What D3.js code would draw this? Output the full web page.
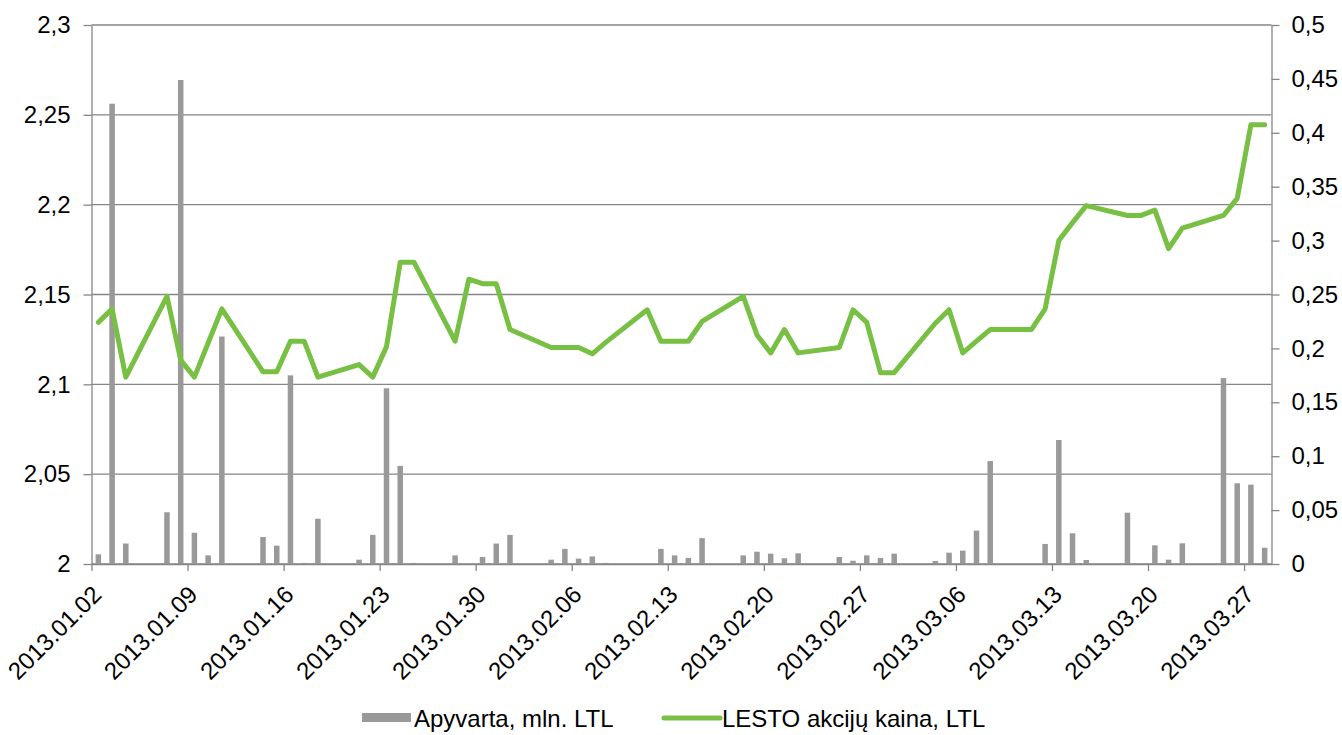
<!DOCTYPE html>
<html>
<head>
<meta charset="utf-8">
<script src="https://cdn.jsdelivr.net/npm/d3@7"></script>
<style>
  body { margin: 0; background: #fff; }
  svg { font-family: "Liberation Sans", Arial, sans-serif; }
</style>
</head>
<body>
<div id="chart"></div>
<script>
"use strict";

// trading days shown on the chart
const dates = [
  "2013-01-02", "2013-01-03", "2013-01-04", "2013-01-07", "2013-01-08", "2013-01-09",
  "2013-01-10", "2013-01-11", "2013-01-14", "2013-01-15", "2013-01-16", "2013-01-17",
  "2013-01-18", "2013-01-21", "2013-01-22", "2013-01-23", "2013-01-24", "2013-01-25",
  "2013-01-28", "2013-01-29", "2013-01-30", "2013-01-31", "2013-02-01", "2013-02-04",
  "2013-02-05", "2013-02-06", "2013-02-07", "2013-02-08", "2013-02-11", "2013-02-12",
  "2013-02-13", "2013-02-14", "2013-02-15", "2013-02-18", "2013-02-19", "2013-02-20",
  "2013-02-21", "2013-02-22", "2013-02-25", "2013-02-26", "2013-02-27", "2013-02-28",
  "2013-03-01", "2013-03-04", "2013-03-05", "2013-03-06", "2013-03-07", "2013-03-08",
  "2013-03-11", "2013-03-12", "2013-03-13", "2013-03-14", "2013-03-15", "2013-03-18",
  "2013-03-19", "2013-03-20", "2013-03-21", "2013-03-22", "2013-03-25", "2013-03-26",
  "2013-03-27", "2013-03-28"
];

// Apyvarta, mln. LTL (right axis)
const turnover = [
  0.009, 0.427, 0.019, 0.048, 0.449, 0.029,
  0.008, 0.211, 0.025, 0.017, 0.175, 0.001,
  0.042, 0.004, 0.027, 0.163, 0.091, 0.001,
  0.008, 0, 0.0065, 0.019, 0.027, 0.004,
  0.014, 0.005, 0.007, 0.001, 0, 0.014,
  0.008, 0.0056, 0.024, 0.008, 0.0114, 0.0096,
  0.0053, 0.0099, 0.0065, 0.003, 0.008, 0.0056,
  0.0096, 0.0028, 0.0105, 0.0124, 0.031, 0.0955,
  0, 0.0186, 0.115, 0.0285, 0.0037, 0.0476,
  0, 0.0173, 0.004, 0.0192, 0.1725, 0.0749,
  0.0736, 0.0151
];

// LESTO akciju kaina, LTL (left axis)
const price = [
  2.1345, 2.142, 2.104, 2.149, 2.1135, 2.104,
  2.123, 2.142, 2.107, 2.107, 2.124, 2.124,
  2.104, 2.111, 2.104, 2.121, 2.168, 2.168,
  2.124, 2.1585, 2.156, 2.156, 2.1305, 2.1205,
  2.1205, 2.1205, 2.117, 2.1235, 2.1415, 2.124,
  2.124, 2.124, 2.135, 2.149, 2.1275, 2.1175,
  2.1305, 2.1175, 2.1205, 2.1415, 2.1345, 2.1065,
  2.1065, 2.134, 2.1415, 2.1175, 2.124, 2.1305,
  2.1305, 2.142, 2.18, 2.19, 2.1995, 2.194,
  2.194, 2.197, 2.1755, 2.187, 2.194, 2.2035,
  2.2445, 2.2445
];

const tickDates = [
  "2013-01-02", "2013-01-09", "2013-01-16", "2013-01-23", "2013-01-30", "2013-02-06",
  "2013-02-13", "2013-02-20", "2013-02-27", "2013-03-06", "2013-03-13", "2013-03-20",
  "2013-03-27"
];
const leftTicks = [2, 2.05, 2.1, 2.15, 2.2, 2.25, 2.3];
const rightTicks = [0, 0.05, 0.1, 0.15, 0.2, 0.25, 0.3, 0.35, 0.4, 0.45, 0.5];
const seriesNames = ["Apyvarta, mln. LTL", "LESTO akcijų kaina, LTL"];

const width = 1342, height = 735;
const margin = {top: 25, right: 70.5, bottom: 171, left: 91.5};
const gridColor = "#868686";
const barColor = "#999999";
const lineColor = "#77c043";
const fontSize = 24;

const parse = d3.utcParse("%Y-%m-%d");
const data = dates.map((d, i) => ({date: parse(d), turnover: turnover[i], price: price[i]}));

const svg = d3.select("#chart").append("svg")
  .attr("width", width)
  .attr("height", height);

const x = d3.scaleUtc()
  .domain([parse(dates[0]), d3.utcDay.offset(parse(dates[dates.length - 1]), 1)])
  .range([margin.left, width - margin.right]);
const yL = d3.scaleLinear().domain([2, 2.3]).range([height - margin.bottom, margin.top]);
const yR = d3.scaleLinear().domain([0, 0.5]).range([height - margin.bottom, margin.top]);

// centre of each day slot
const cx = d => x(d3.utcHour.offset(d, 12));
const fmt = v => String(+v.toFixed(2)).replace(".", ",");

// gridlines
svg.append("g")
  .selectAll("line")
  .data(leftTicks)
  .join("line")
  .attr("x1", margin.left)
  .attr("x2", width - margin.right)
  .attr("y1", d => yL(d))
  .attr("y2", d => yL(d))
  .attr("stroke", gridColor)
  .attr("stroke-width", 1.3);

// bars
const barW = 5.5;
svg.append("g")
  .selectAll("rect")
  .data(data)
  .join("rect")
  .attr("x", d => cx(d.date) - barW / 2)
  .attr("y", d => yR(d.turnover))
  .attr("width", barW)
  .attr("height", d => yR(0) - yR(d.turnover))
  .attr("fill", barColor);

// axes
function styleAxis(g) {
  g.selectAll(".domain").attr("stroke", gridColor).attr("stroke-width", 1.3);
  g.selectAll(".tick line").attr("stroke", gridColor).attr("stroke-width", 1.3);
  g.selectAll("text")
    .attr("fill", "#000")
    .style("font-size", fontSize + "px")
    .style("font-family", "'Liberation Sans', Arial, sans-serif");
}

svg.append("g")
  .attr("transform", `translate(${margin.left},0)`)
  .call(d3.axisLeft(yL).tickValues(leftTicks).tickFormat(fmt).tickSize(8).tickPadding(13).tickSizeOuter(0))
  .call(styleAxis);

svg.append("g")
  .attr("transform", `translate(${width - margin.right},0)`)
  .call(d3.axisRight(yR).tickValues(rightTicks).tickFormat(fmt).tickSize(8).tickPadding(12).tickSizeOuter(0))
  .call(styleAxis);

const xAxis = svg.append("g")
  .attr("transform", `translate(0,${height - margin.bottom})`)
  .call(d3.axisBottom(x)
    .tickValues(tickDates.map(parse))
    .tickFormat(d3.utcFormat("%Y.%m.%d"))
    .tickSize(7)
    .tickSizeOuter(0))
  .call(styleAxis);

xAxis.selectAll(".tick text")
  .attr("text-anchor", "end")
  .attr("dy", null)
  .attr("y", 0)
  .attr("transform", "translate(11,32) rotate(-45)");

// price line
const line = d3.line()
  .x(d => cx(d.date))
  .y(d => yL(d.price));

svg.append("path")
  .datum(data)
  .attr("d", line)
  .attr("fill", "none")
  .attr("stroke", lineColor)
  .attr("stroke-width", 5)
  .attr("stroke-linejoin", "round")
  .attr("stroke-linecap", "round");

// legend
const legend = svg.append("g")
  .style("font-size", fontSize + "px");

legend.append("rect")
  .attr("x", 362)
  .attr("y", 713)
  .attr("width", 49)
  .attr("height", 9)
  .attr("fill", barColor);

legend.append("text")
  .attr("x", 414)
  .attr("y", 727)
  .text(seriesNames[0]);

legend.append("line")
  .attr("x1", 664)
  .attr("x2", 720)
  .attr("y1", 718)
  .attr("y2", 718)
  .attr("stroke", lineColor)
  .attr("stroke-width", 5)
  .attr("stroke-linecap", "round");

legend.append("text")
  .attr("x", 722)
  .attr("y", 727)
  .text(seriesNames[1]);
</script>
</body>
</html>
